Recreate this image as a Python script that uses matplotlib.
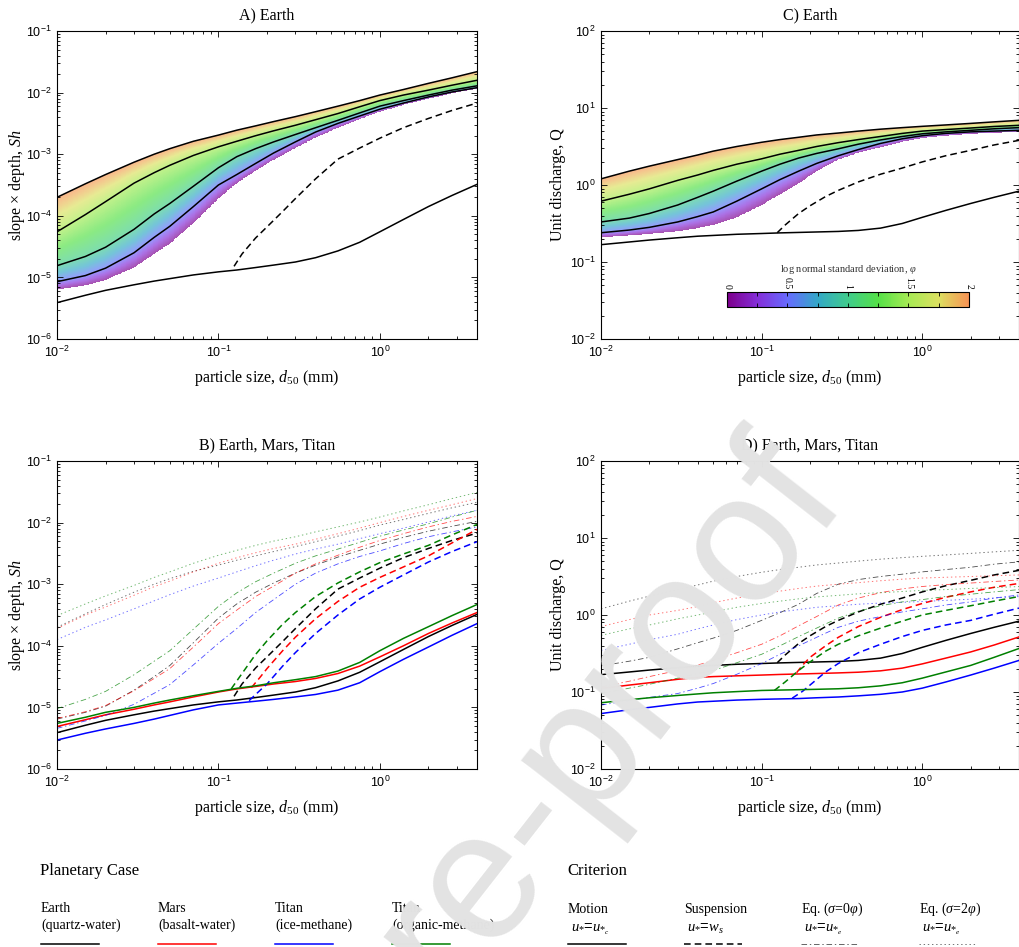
import numpy as np
import matplotlib.pyplot as plt
from matplotlib.colors import LinearSegmentedColormap, Normalize
from matplotlib.cm import ScalarMappable
from matplotlib.ticker import FuncFormatter, MultipleLocator, LogLocator, NullFormatter
from matplotlib.lines import Line2D

plt.rcParams['font.family'] = 'Liberation Sans'
plt.rcParams['mathtext.fontset'] = 'custom'
plt.rcParams['mathtext.rm'] = 'Liberation Serif'
plt.rcParams['mathtext.it'] = 'Liberation Serif:italic'
plt.rcParams['mathtext.sf'] = 'Liberation Sans'
plt.rcParams['lines.scale_dashes'] = False
SERIF = 'Liberation Serif'

# ---- data (values stored as log10) ----
d50 = [0.01, 0.015, 0.02, 0.03, 0.04, 0.05, 0.07, 0.1, 0.13, 0.17, 0.22, 0.3, 0.4, 0.55, 0.75, 1, 1.4, 2, 2.8, 4]
sigma_levels = [0, 0.5, 1, 1.5, 2]

# A) Earth, log10(slope x depth) for sigma = 0 .. 2 phi
sh_earth_s0 = [-5.20, -5.13, -5.04, -4.84, -4.62, -4.45, -4.12, -3.72, -3.47, -3.27, -3.09, -2.90, -2.73, -2.57, -2.43, -2.31, -2.20, -2.10, -2.01, -1.94]
sh_earth_s05 = [-5.07, -4.97, -4.85, -4.60, -4.35, -4.17, -3.85, -3.50, -3.33, -3.15, -2.98, -2.80, -2.64, -2.50, -2.38, -2.27, -2.17, -2.07, -1.99, -1.92]
sh_earth_s1 = [-4.81, -4.66, -4.51, -4.22, -3.97, -3.80, -3.52, -3.22, -3.04, -2.91, -2.80, -2.68, -2.57, -2.45, -2.33, -2.22, -2.13, -2.04, -1.96, -1.89]
sh_earth_s15 = [-4.26, -3.98, -3.77, -3.47, -3.30, -3.18, -3.02, -2.88, -2.79, -2.70, -2.62, -2.53, -2.44, -2.34, -2.23, -2.13, -2.04, -1.96, -1.88, -1.80]
sh_earth_s2 = [-3.70, -3.48, -3.33, -3.13, -3.00, -2.91, -2.79, -2.69, -2.61, -2.54, -2.47, -2.39, -2.31, -2.22, -2.13, -2.04, -1.95, -1.85, -1.76, -1.66]

# C) Earth, log10(unit discharge) for sigma = 0 .. 2 phi
q_earth_s0 = [-0.68, -0.655, -0.635, -0.60, -0.56, -0.52, -0.42, -0.26, -0.12, 0.02, 0.18, 0.33, 0.42, 0.49, 0.56, 0.61, 0.64, 0.665, 0.68, 0.69]
q_earth_s05 = [-0.62, -0.585, -0.55, -0.48, -0.41, -0.35, -0.21, -0.05, 0.07, 0.18, 0.28, 0.38, 0.46, 0.54, 0.60, 0.64, 0.67, 0.69, 0.70, 0.71]
q_earth_s1 = [-0.48, -0.43, -0.37, -0.26, -0.16, -0.08, 0.05, 0.18, 0.27, 0.35, 0.41, 0.47, 0.53, 0.585, 0.63, 0.665, 0.69, 0.71, 0.73, 0.745]
q_earth_s15 = [-0.21, -0.12, -0.05, 0.06, 0.13, 0.19, 0.27, 0.34, 0.40, 0.45, 0.50, 0.55, 0.59, 0.63, 0.67, 0.70, 0.72, 0.74, 0.76, 0.775]
q_earth_s2 = [0.08, 0.18, 0.245, 0.33, 0.39, 0.44, 0.50, 0.555, 0.59, 0.62, 0.65, 0.675, 0.70, 0.725, 0.745, 0.762, 0.78, 0.80, 0.82, 0.84]

# B) log10(slope x depth), motion threshold (solid)
sh_motion_earth = [-5.41, -5.29, -5.21, -5.12, -5.06, -5.02, -4.96, -4.91, -4.88, -4.84, -4.80, -4.75, -4.68, -4.57, -4.43, -4.26, -4.06, -3.85, -3.67, -3.49]
sh_motion_mars = [-5.31, -5.20, -5.12, -5.03, -4.96, -4.91, -4.83, -4.75, -4.70, -4.66, -4.62, -4.58, -4.53, -4.45, -4.33, -4.18, -4.00, -3.80, -3.63, -3.46]
sh_motion_titan_ice = [-5.53, -5.42, -5.35, -5.26, -5.19, -5.13, -5.04, -4.96, -4.93, -4.90, -4.87, -4.83, -4.79, -4.72, -4.60, -4.42, -4.22, -4.02, -3.83, -3.64]
sh_motion_titan_org = [-5.26, -5.16, -5.08, -5.00, -4.93, -4.88, -4.81, -4.74, -4.69, -4.65, -4.60, -4.55, -4.50, -4.41, -4.27, -4.08, -3.88, -3.69, -3.51, -3.33]

# B) log10(slope x depth), suspension threshold (dashed), each from its own size
d50_susp_earth = [0.125, 0.14, 0.17, 0.2, 0.25, 0.3, 0.4, 0.55, 0.75, 1, 1.4, 2, 2.8, 4]
sh_susp_earth = [-4.82, -4.62, -4.36, -4.18, -3.93, -3.72, -3.40, -3.08, -2.90, -2.74, -2.57, -2.42, -2.29, -2.17]
d50_susp_mars = [0.16, 0.18, 0.2, 0.25, 0.3, 0.4, 0.55, 0.75, 1, 1.4, 2, 2.8, 4]
sh_susp_mars = [-4.68, -4.52, -4.37, -4.08, -3.86, -3.56, -3.28, -3.05, -2.89, -2.72, -2.54, -2.33, -2.11]
d50_susp_titan_ice = [0.155, 0.18, 0.2, 0.25, 0.3, 0.4, 0.55, 0.75, 1, 1.4, 2, 2.8, 4]
sh_susp_titan_ice = [-4.89, -4.73, -4.62, -4.33, -4.11, -3.80, -3.50, -3.24, -3.05, -2.85, -2.64, -2.47, -2.31]
d50_susp_titan_org = [0.12, 0.14, 0.17, 0.2, 0.25, 0.3, 0.4, 0.55, 0.75, 1, 1.4, 2, 2.8, 4]
sh_susp_titan_org = [-4.70, -4.45, -4.14, -3.92, -3.65, -3.46, -3.20, -2.98, -2.80, -2.65, -2.51, -2.37, -2.20, -2.03]

# B) log10(slope x depth), equal mobility sigma = 0 phi (dash-dot)
sh_eq0_earth = [-5.19, -5.08, -4.98, -4.72, -4.50, -4.32, -3.95, -3.55, -3.32, -3.13, -2.98, -2.82, -2.69, -2.56, -2.45, -2.35, -2.24, -2.14, -2.06, -1.98]
sh_eq0_mars = [-5.18, -5.07, -4.97, -4.73, -4.53, -4.37, -4.02, -3.64, -3.42, -3.20, -3.03, -2.82, -2.67, -2.53, -2.40, -2.29, -2.18, -2.07, -1.98, -1.90]
sh_eq0_titan_ice = [-5.34, -5.22, -5.13, -4.95, -4.77, -4.63, -4.31, -3.96, -3.72, -3.46, -3.25, -3.00, -2.82, -2.67, -2.55, -2.46, -2.34, -2.23, -2.15, -2.07]
sh_eq0_titan_org = [-5.02, -4.87, -4.74, -4.47, -4.25, -4.08, -3.73, -3.36, -3.14, -2.96, -2.82, -2.66, -2.54, -2.43, -2.32, -2.22, -2.12, -2.02, -1.91, -1.80]

# B) log10(slope x depth), equal mobility sigma = 2 phi (dotted)
sh_eq2_earth = [-3.70, -3.48, -3.33, -3.13, -3.00, -2.91, -2.79, -2.69, -2.61, -2.54, -2.47, -2.39, -2.31, -2.22, -2.13, -2.04, -1.95, -1.85, -1.76, -1.67]
sh_eq2_mars = [-3.72, -3.50, -3.37, -3.18, -3.04, -2.95, -2.80, -2.66, -2.57, -2.49, -2.42, -2.35, -2.27, -2.18, -2.09, -2.00, -1.90, -1.80, -1.71, -1.61]
sh_eq2_titan_ice = [-3.90, -3.70, -3.58, -3.40, -3.27, -3.17, -3.03, -2.90, -2.80, -2.70, -2.61, -2.51, -2.43, -2.35, -2.26, -2.18, -2.09, -1.99, -1.89, -1.80]
sh_eq2_titan_org = [-3.51, -3.32, -3.19, -3.02, -2.89, -2.80, -2.66, -2.53, -2.45, -2.37, -2.30, -2.23, -2.15, -2.07, -1.99, -1.91, -1.81, -1.71, -1.61, -1.51]

# D) log10(unit discharge), motion (solid)
q_motion_earth = [-0.775, -0.74, -0.715, -0.685, -0.665, -0.655, -0.64, -0.63, -0.622, -0.616, -0.61, -0.603, -0.59, -0.56, -0.50, -0.42, -0.33, -0.24, -0.16, -0.08]
q_motion_mars = [-0.955, -0.91, -0.88, -0.835, -0.81, -0.80, -0.79, -0.78, -0.772, -0.766, -0.76, -0.752, -0.743, -0.725, -0.69, -0.635, -0.56, -0.48, -0.39, -0.285]
q_motion_titan_ice = [-1.28, -1.23, -1.20, -1.155, -1.13, -1.12, -1.105, -1.095, -1.09, -1.085, -1.075, -1.065, -1.05, -1.03, -1.00, -0.95, -0.87, -0.78, -0.69, -0.59]
q_motion_titan_org = [-1.14, -1.10, -1.075, -1.045, -1.025, -1.01, -0.995, -0.98, -0.975, -0.97, -0.965, -0.958, -0.945, -0.92, -0.88, -0.82, -0.74, -0.655, -0.55, -0.435]

# D) log10(unit discharge), suspension (dashed)
d50_qsusp_earth = [0.125, 0.14, 0.17, 0.2, 0.25, 0.3, 0.4, 0.55, 0.75, 1, 1.4, 2, 2.8, 4]
q_susp_earth = [-0.62, -0.52, -0.37, -0.27, -0.15, -0.07, 0.04, 0.14, 0.22, 0.30, 0.38, 0.45, 0.52, 0.58]
d50_qsusp_mars = [0.165, 0.18, 0.2, 0.25, 0.3, 0.4, 0.55, 0.75, 1, 1.4, 2, 2.8, 4]
q_susp_mars = [-0.75, -0.65, -0.55, -0.40, -0.29, -0.15, -0.03, 0.07, 0.15, 0.23, 0.30, 0.36, 0.41]
d50_qsusp_titan_ice = [0.155, 0.18, 0.2, 0.25, 0.3, 0.4, 0.55, 0.75, 1, 1.4, 2, 2.8, 4]
q_susp_titan_ice = [-1.08, -0.99, -0.91, -0.74, -0.63, -0.49, -0.38, -0.28, -0.20, -0.13, -0.07, 0.01, 0.09]
d50_qsusp_titan_org = [0.12, 0.14, 0.17, 0.2, 0.25, 0.3, 0.4, 0.55, 0.75, 1, 1.4, 2, 2.8, 4]
q_susp_titan_org = [-0.98, -0.87, -0.72, -0.61, -0.47, -0.38, -0.27, -0.17, -0.08, 0.0, 0.06, 0.12, 0.18, 0.24]

# D) log10(unit discharge), sigma = 0 phi (dash-dot)
q_eq0_earth = [-0.66, -0.60, -0.55, -0.44, -0.36, -0.30, -0.20, -0.07, 0.03, 0.14, 0.28, 0.40, 0.46, 0.50, 0.53, 0.56, 0.59, 0.62, 0.66, 0.69]
q_eq0_mars = [-0.935, -0.86, -0.80, -0.72, -0.65, -0.59, -0.49, -0.38, -0.27, -0.14, -0.02, 0.13, 0.22, 0.29, 0.34, 0.37, 0.395, 0.415, 0.435, 0.455]
q_eq0_titan_ice = [-1.17, -1.11, -1.07, -1.02, -0.95, -0.89, -0.77, -0.63, -0.51, -0.40, -0.29, -0.16, -0.08, -0.02, 0.04, 0.08, 0.13, 0.17, 0.22, 0.26]
q_eq0_titan_org = [-1.02, -0.95, -0.90, -0.82, -0.76, -0.72, -0.62, -0.51, -0.40, -0.28, -0.17, -0.04, 0.05, 0.12, 0.17, 0.20, 0.24, 0.27, 0.30, 0.33]

# D) log10(unit discharge), sigma = 2 phi (dotted)
q_eq2_earth = [0.08, 0.18, 0.245, 0.33, 0.39, 0.44, 0.50, 0.555, 0.59, 0.62, 0.65, 0.675, 0.70, 0.725, 0.745, 0.762, 0.78, 0.80, 0.82, 0.84]
q_eq2_mars = [-0.15, -0.06, 0.0, 0.06, 0.11, 0.16, 0.22, 0.27, 0.31, 0.345, 0.375, 0.40, 0.42, 0.445, 0.465, 0.48, 0.49, 0.50, 0.51, 0.52]
q_eq2_titan_ice = [-0.46, -0.38, -0.32, -0.25, -0.18, -0.13, -0.06, 0.0, 0.04, 0.07, 0.10, 0.12, 0.14, 0.155, 0.165, 0.175, 0.19, 0.205, 0.22, 0.24]
q_eq2_titan_org = [-0.265, -0.18, -0.13, -0.05, 0.0, 0.04, 0.10, 0.15, 0.18, 0.21, 0.235, 0.255, 0.275, 0.29, 0.305, 0.32, 0.33, 0.345, 0.355, 0.37]

planet_colors = ['k', 'r', 'b', '#008000']
planet_names = ['Earth\n(quartz-water)', 'Mars\n(basalt-water)', 'Titan\n(ice-methane)', 'Titan\n(organic-methane)']
criterion_names = ['Motion', 'Suspension', r'Eq. ($\mathit{σ}$=0$\mathit{φ}$)', r'Eq. ($\mathit{σ}$=2$\mathit{φ}$)']
criterion_maths = [r'$\mathit{u}_{*}$=$\mathit{u}_{*_{c}}$', r'$\mathit{u}_{*}$=$\mathit{w}_{s}$',
                   r'$\mathit{u}_{*}$=$\mathit{u}_{*_{e}}$', r'$\mathit{u}_{*}$=$\mathit{u}_{*_{e}}$']

# ---- styles ----
SOLID = dict(ls='-', lw=1.1)
DASHED = dict(ls=(0, (4.8, 2.9)), lw=1.1)
DASHDOT = dict(ls=(0, (4.0, 2.0, 1.0, 2.0)), lw=0.6, alpha=0.7)
DOTTED = dict(ls=(0, (1.0, 2.0)), lw=0.7, alpha=0.55)

cmap = LinearSegmentedColormap.from_list('phi', [
    (0.0, (0.49, 0.0, 0.55)), (0.125, (0.52, 0.18, 0.85)), (0.25, (0.40, 0.42, 1.0)),
    (0.375, (0.20, 0.66, 0.78)), (0.5, (0.25, 0.80, 0.55)), (0.625, (0.33, 0.88, 0.28)),
    (0.75, (0.65, 0.92, 0.33)), (0.875, (0.86, 0.88, 0.38)), (1.0, (0.97, 0.58, 0.33))])
# paler version for the filled band
band_cmap = LinearSegmentedColormap.from_list(
    'phi_pale', [0.68 * np.array(cmap(v)[:3]) + 0.32 for v in np.linspace(0, 1, 64)])

W, H = 1020, 947
fig = plt.figure(figsize=(W / 100, H / 100), dpi=100)


def box(l, t, r, b):
    return [l / W, 1 - b / H, (r - l) / W, (b - t) / H]


def pow10(v, pos):
    return r'$\mathsf{10^{%d}}$' % int(round(np.log10(v)))


def p10(a):
    return np.power(10.0, a)


def style(ax, ylim, ylabel, title, ypad):
    ax.set_xscale('log')
    ax.set_yscale('log')
    ax.set_xlim(0.01, 4)
    ax.set_ylim(*ylim)
    ax.xaxis.set_major_locator(LogLocator(base=10, numticks=10))
    ax.yaxis.set_major_locator(LogLocator(base=10, numticks=10))
    ax.xaxis.set_major_formatter(FuncFormatter(pow10))
    ax.yaxis.set_major_formatter(FuncFormatter(pow10))
    ax.xaxis.set_minor_formatter(NullFormatter())
    ax.yaxis.set_minor_formatter(NullFormatter())
    ax.tick_params(which='both', direction='in', top=True, right=True, labelsize=9, width=0.6)
    ax.tick_params(which='major', length=4.5, pad=4)
    ax.tick_params(which='minor', length=2.5)
    for s in ax.spines.values():
        s.set_linewidth(0.8)
    ax.set_xlabel(r'particle size, $\mathit{d_{50}}$ (mm)', fontfamily=SERIF, fontsize=11.5, labelpad=6)
    ax.set_ylabel(ylabel, fontfamily=SERIF, fontsize=11.5, labelpad=ypad)
    ax.set_title(title, fontfamily=SERIF, fontsize=11.5, pad=8)


def band(ax, curves, ylim):
    xs = np.logspace(-2, np.log10(4), 500)
    logc = np.array([np.interp(np.log10(xs), np.log10(d50), c) for c in curves])
    ys = np.logspace(np.log10(ylim[0]), np.log10(ylim[1]), 900)
    ly = np.log10(ys)
    Z = np.full((len(ys), len(xs)), np.nan)
    for j in range(len(xs)):
        Z[:, j] = np.interp(ly, logc[:, j], sigma_levels, left=np.nan, right=np.nan)
    ax.pcolormesh(xs, ys, np.ma.masked_invalid(Z), cmap=band_cmap, vmin=0, vmax=2,
                  shading='nearest', zorder=1)
    for c in curves[1:]:
        ax.plot(d50, p10(c), color='k', lw=1.1, zorder=3)


# ---- A) Earth ----
axA = fig.add_axes(box(57, 31, 477, 339))
ylimA = (1e-6, 1e-1)
band(axA, [sh_earth_s0, sh_earth_s05, sh_earth_s1, sh_earth_s15, sh_earth_s2], ylimA)
axA.plot(d50, p10(sh_motion_earth), color='k', zorder=3, **SOLID)
axA.plot(d50_susp_earth, p10(sh_susp_earth), color='k', zorder=3, **DASHED)
style(axA, ylimA, r'slope × depth, $\mathit{Sh}$', 'A) Earth', -1)

# ---- C) Earth ----
axC = fig.add_axes(box(601, 31, 1019, 339))
ylimC = (1e-2, 1e2)
band(axC, [q_earth_s0, q_earth_s05, q_earth_s1, q_earth_s15, q_earth_s2], ylimC)
axC.plot(d50, p10(q_motion_earth), color='k', zorder=3, **SOLID)
axC.plot(d50_qsusp_earth, p10(q_susp_earth), color='k', zorder=3, **DASHED)
style(axC, ylimC, 'Unit discharge, Q', 'C) Earth', 3)

cax = fig.add_axes(box(727, 292, 969, 307))
cb = fig.colorbar(ScalarMappable(norm=Normalize(0, 2), cmap=cmap), cax=cax,
                  orientation='horizontal', ticks=[0, 0.5, 1, 1.5, 2])
cb.outline.set_linewidth(0.8)
cax.xaxis.set_ticks_position('both')
cax.xaxis.set_label_position('top')
cax.xaxis.set_minor_locator(MultipleLocator(0.25))
cax.tick_params(which='both', direction='in', length=3, width=0.6, labeltop=True, labelbottom=False, pad=2)
cax.set_xticklabels(['0', '0.5', '1', '1.5', '2'], rotation=-90, fontfamily=SERIF, fontsize=7)
fig.text(848 / W, 1 - 269 / H, r'log normal standard deviation, $\mathit{φ}$', fontfamily=SERIF,
         fontsize=7.5, ha='center', va='center', color='#333333')

# ---- B) Earth, Mars, Titan ----
axB = fig.add_axes(box(57, 461, 477, 769))
sh_motion = [sh_motion_earth, sh_motion_mars, sh_motion_titan_ice, sh_motion_titan_org]
sh_susp_x = [d50_susp_earth, d50_susp_mars, d50_susp_titan_ice, d50_susp_titan_org]
sh_susp = [sh_susp_earth, sh_susp_mars, sh_susp_titan_ice, sh_susp_titan_org]
sh_eq0 = [sh_eq0_earth, sh_eq0_mars, sh_eq0_titan_ice, sh_eq0_titan_org]
sh_eq2 = [sh_eq2_earth, sh_eq2_mars, sh_eq2_titan_ice, sh_eq2_titan_org]
for i, col in enumerate(planet_colors):
    axB.plot(d50, p10(sh_eq2[i]), color=col, **DOTTED)
    axB.plot(d50, p10(sh_eq0[i]), color=col, **DASHDOT)
    axB.plot(sh_susp_x[i], p10(sh_susp[i]), color=col, **DASHED)
    axB.plot(d50, p10(sh_motion[i]), color=col, **SOLID)
style(axB, ylimA, r'slope × depth, $\mathit{Sh}$', 'B) Earth, Mars, Titan', -1)

# ---- D) Earth, Mars, Titan ----
axD = fig.add_axes(box(601, 461, 1019, 769))
q_motion = [q_motion_earth, q_motion_mars, q_motion_titan_ice, q_motion_titan_org]
q_susp_x = [d50_qsusp_earth, d50_qsusp_mars, d50_qsusp_titan_ice, d50_qsusp_titan_org]
q_susp = [q_susp_earth, q_susp_mars, q_susp_titan_ice, q_susp_titan_org]
q_eq0 = [q_eq0_earth, q_eq0_mars, q_eq0_titan_ice, q_eq0_titan_org]
q_eq2 = [q_eq2_earth, q_eq2_mars, q_eq2_titan_ice, q_eq2_titan_org]
for i, col in enumerate(planet_colors):
    axD.plot(d50, p10(q_eq2[i]), color=col, **DOTTED)
    axD.plot(d50, p10(q_eq0[i]), color=col, **DASHDOT)
    axD.plot(q_susp_x[i], p10(q_susp[i]), color=col, **DASHED)
    axD.plot(d50, p10(q_motion[i]), color=col, **SOLID)
style(axD, ylimC, 'Unit discharge, Q', 'D) Earth, Mars, Titan', 3)


# ---- legend rows at the bottom ----
def fx(x):
    return x / W


def fy(y):
    return 1 - y / H


fig.text(fx(40), fy(871), 'Planetary Case', fontfamily=SERIF, fontsize=12, va='center')
for i, (name, col) in enumerate(zip(planet_names, planet_colors)):
    x0 = 41 + 117 * i
    fig.text(fx(x0), fy(917), name, fontfamily=SERIF, fontsize=10, va='center', linespacing=1.25)
    fig.add_artist(Line2D([fx(x0), fx(x0 + 58)], [fy(944), fy(944)], color=col, lw=1.1))

fig.text(fx(567), fy(871), 'Criterion', fontfamily=SERIF, fontsize=12, va='center')
crit_styles = [SOLID, DASHED, DASHDOT, DOTTED]
crit_x = [568, 684, 801, 919]
for name, maths, st, x0 in zip(criterion_names, criterion_maths, crit_styles, crit_x):
    fig.text(fx(x0), fy(909), name, fontfamily=SERIF, fontsize=10, va='center')
    fig.text(fx(x0 + 3), fy(929), maths, fontsize=10.5, va='center')
    fig.add_artist(Line2D([fx(x0), fx(x0 + 58)], [fy(944), fy(944)], color='k', **st))

# watermark
fig.text(fx(848), fy(500), 'Journal Pre-proof', fontsize=132, color='#e3e3e3',
         rotation=52, rotation_mode='anchor', ha='right', va='baseline', zorder=10)

fig.savefig('out.png', dpi=100)
